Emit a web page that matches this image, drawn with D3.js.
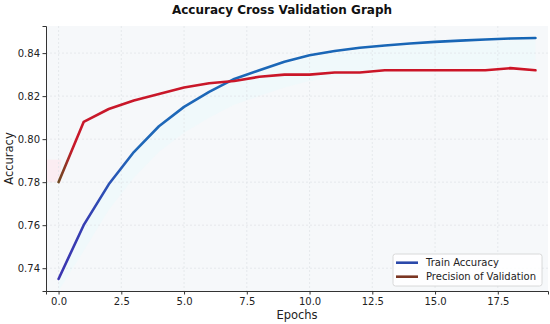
<!DOCTYPE html>
<html>
<head>
<meta charset="utf-8">
<script src="https://cdn.jsdelivr.net/npm/d3@7"></script>
<style>
  body { margin: 0; background: #fff; }
  svg { display: block; font-family: "DejaVu Sans", sans-serif; }
</style>
</head>
<body>
<svg id="chart" width="550" height="324"></svg>
<script>
// data
let epochs = [0, 1, 2, 3, 4, 5, 6, 7, 8, 9, 10, 11, 12, 13, 14, 15, 16, 17, 18, 19];
let trainAcc = [0.735, 0.760, 0.779, 0.794, 0.806, 0.815, 0.822, 0.828, 0.832, 0.836,
                0.839, 0.841, 0.8425, 0.8435, 0.8445, 0.8452, 0.8458, 0.8463, 0.8468, 0.847];
let valPrec = [0.780, 0.808, 0.814, 0.818, 0.821, 0.824, 0.826, 0.827, 0.829, 0.830,
               0.830, 0.831, 0.831, 0.832, 0.832, 0.832, 0.832, 0.832, 0.833, 0.832];
let xTicks = [0, 2.5, 5, 7.5, 10, 12.5, 15, 17.5];
let yTicks = [0.74, 0.76, 0.78, 0.80, 0.82, 0.84];
let seriesNames = ["Train Accuracy", "Precision of Validation"];

let margin = {top: 26, right: 2, bottom: 33, left: 46};
let width = 550 - margin.left - margin.right;
let height = 324 - margin.top - margin.bottom;

let svg = d3.select("#chart");
let g = svg.append("g")
  .attr("transform", "translate(" + margin.left + "," + margin.top + ")");

let x = d3.scaleLinear().domain([-0.5, 19.5]).range([0, width]);
let y = d3.scaleLinear().domain([0.7294, 0.8526]).range([height, 0]);

// axes background
g.append("rect")
  .attr("width", width).attr("height", height)
  .attr("fill", "#f6f8fa");

// gradients along x for each line
let defs = svg.append("defs");
function addGradient(id, stops) {
  let grad = defs.append("linearGradient")
    .attr("id", id)
    .attr("gradientUnits", "userSpaceOnUse")
    .attr("x1", x(0)).attr("x2", x(19)).attr("y1", 0).attr("y2", 0);
  stops.forEach(function(s) {
    grad.append("stop").attr("offset", s[0]).attr("stop-color", s[1]);
  });
}
addGradient("trainGrad", [[0, "#3b35b0"], [0.06, "#3540b2"], [0.16, "#1f68b8"], [1, "#1565b5"]]);
addGradient("valGrad", [[0, "#6e4a22"], [0.012, "#8a3a24"], [0.03, "#c8182a"], [1, "#cc1426"]]);

// faint glow fills near the lines
g.append("path")
  .datum(epochs)
  .attr("fill", "#e8fafc")
  .attr("opacity", 0.4)
  .attr("d", d3.area()
    .x(function(d) { return x(d); })
    .y0(function(d) { return y(trainAcc[d]) + 2; })
    .y1(function(d) { return y(Math.max(trainAcc[d] - 0.012, 0.7294)); }));
g.append("rect")
  .attr("x", 0).attr("y", y(0.7905))
  .attr("width", x(0.1)).attr("height", y(0.78) - y(0.7905))
  .attr("fill", "#fde8ee").attr("opacity", 0.7);

// grid
g.append("g")
  .selectAll("line").data(xTicks).join("line")
  .attr("x1", function(d) { return x(d); }).attr("x2", function(d) { return x(d); })
  .attr("y1", 0).attr("y2", height)
  .attr("stroke", "#e0e3e7").attr("stroke-width", 0.7).attr("stroke-dasharray", "2,2");
g.append("g")
  .selectAll("line").data(yTicks).join("line")
  .attr("x1", 0).attr("x2", width)
  .attr("y1", function(d) { return y(d); }).attr("y2", function(d) { return y(d); })
  .attr("stroke", "#e0e3e7").attr("stroke-width", 0.7).attr("stroke-dasharray", "2,2");

// lines
let line = d3.line().x(function(d) { return x(d[0]); }).y(function(d) { return y(d[1]); });
g.append("path")
  .attr("d", line(epochs.map(function(e, i) { return [e, trainAcc[i]]; })))
  .attr("fill", "none").attr("stroke", "url(#trainGrad)")
  .attr("stroke-width", 2.6).attr("stroke-linejoin", "round").attr("stroke-linecap", "round");
g.append("path")
  .attr("d", line(epochs.map(function(e, i) { return [e, valPrec[i]]; })))
  .attr("fill", "none").attr("stroke", "url(#valGrad)")
  .attr("stroke-width", 2.6).attr("stroke-linejoin", "round").attr("stroke-linecap", "round");

// axes
let xAxis = g.append("g")
  .attr("transform", "translate(0," + height + ")")
  .call(d3.axisBottom(x).tickValues(xTicks).tickFormat(d3.format(".1f")).tickSizeOuter(0).tickSize(3.5));
let yAxis = g.append("g")
  .call(d3.axisLeft(y).tickValues(yTicks).tickFormat(d3.format(".2f")).tickSizeOuter(0).tickSize(3.5));
[xAxis, yAxis].forEach(function(a) {
  a.select(".domain").attr("stroke", "#333").attr("stroke-width", 1);
  a.selectAll(".tick line").attr("stroke", "#333");
  a.selectAll(".tick text").attr("fill", "#222").attr("font-size", 10)
    .attr("font-family", "DejaVu Sans");
});
yAxis.selectAll(".tick text").attr("x", -6);

// labels
svg.append("text")
  .attr("x", 282).attr("y", 14)
  .attr("text-anchor", "middle")
  .attr("font-size", 12).attr("font-weight", "bold")
  .attr("fill", "#111")
  .text("Accuracy Cross Validation Graph");
svg.append("text")
  .attr("x", margin.left + width / 2).attr("y", 319)
  .attr("text-anchor", "middle")
  .attr("font-size", 11.5).attr("fill", "#222")
  .text("Epochs");
svg.append("text")
  .attr("transform", "translate(13," + (margin.top + height / 2) + ") rotate(-90)")
  .attr("text-anchor", "middle")
  .attr("font-size", 11.5).attr("fill", "#222")
  .text("Accuracy");

// legend
let legendColors = ["#2a48aa", "#7a3522"];
let legend = svg.append("g").attr("transform", "translate(393,254)");
legend.append("rect")
  .attr("width", 149).attr("height", 32).attr("rx", 2.5)
  .attr("fill", "#fff").attr("fill-opacity", 0.85)
  .attr("stroke", "#d0d0d0").attr("stroke-width", 0.8);
seriesNames.forEach(function(name, i) {
  let row = legend.append("g").attr("transform", "translate(0," + (8.7 + i * 14) + ")");
  row.append("line")
    .attr("x1", 3).attr("x2", 25).attr("y1", 0).attr("y2", 0)
    .attr("stroke", legendColors[i]).attr("stroke-width", 2.6);
  row.append("text")
    .attr("x", 33).attr("y", 0).attr("dy", "0.35em")
    .attr("font-size", 10).attr("fill", "#222")
    .text(name);
});
</script>
</body>
</html>
